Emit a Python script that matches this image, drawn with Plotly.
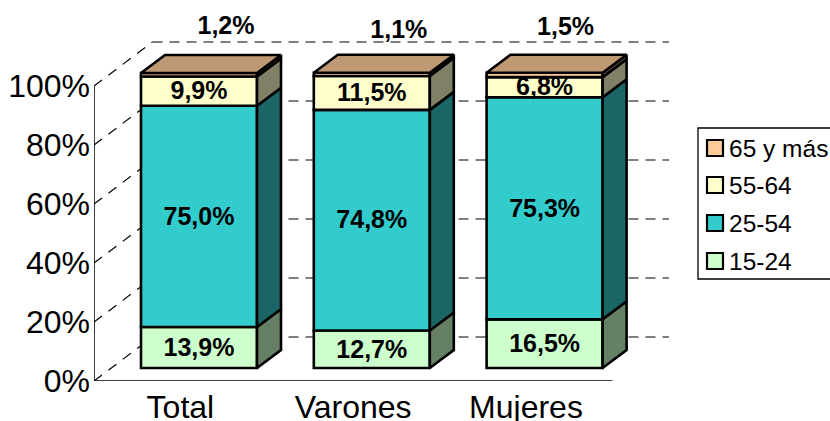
import plotly.graph_objects as go

categories = ["Total", "Varones", "Mujeres"]
series_names = ["15-24", "25-54", "55-64", "65 y más"]
v_15_24 = [13.9, 12.7, 16.5]
v_25_54 = [75.0, 74.8, 75.3]
v_55_64 = [9.9, 11.5, 6.8]
v_65_mas = [1.2, 1.1, 1.5]
series_values = [v_15_24, v_25_54, v_55_64, v_65_mas]
y_ticks = [0, 20, 40, 60, 80, 100]

front_colors = ["#CCFFCC", "#33CCCC", "#FFFFCC", "#FFCC99"]
side_colors = ["#668066", "#1A6666", "#808066", "#806650"]
top_color = "#BF9973"

W, H = 830, 421
X0_PX, X_UNIT_PX = 94.0, 172.8     # pixel of category 0 edge, pixels per category
Y0_PX, Y_UNIT_PX = 381.0, 2.95     # pixel of 0 %, pixels per 1 %
RIGHT_PX = 669.0
WALL_DX = 58.5 / X_UNIT_PX
WALL_DY = 44.0 / Y_UNIT_PX
BAR_W = 116.0 / X_UNIT_PX
BAR_SHIFT_X = 18.6 / X_UNIT_PX
BAR_SHIFT_Y = 13.0 / Y_UNIT_PX
BAR_DX = 24.0 / X_UNIT_PX
BAR_DY = 18.0 / Y_UNIT_PX
LABEL_NUDGE = 2.0 / Y_UNIT_PX
FONT = "Liberation Sans, Arial, sans-serif"


def px_x(p):
    return p / W


def px_y(p):
    return 1 - p / H


x_max = (RIGHT_PX - X0_PX) / X_UNIT_PX
y_max = Y0_PX / Y_UNIT_PX
centers = [i + 0.5 for i in range(len(categories))]
bar_x = [c + BAR_SHIFT_X for c in centers]

fig = go.Figure()
cum = [BAR_SHIFT_Y] * len(categories)

label_x, label_y, label_text = [], [], []
top_label_dx = [27 / X_UNIT_PX, 27 / X_UNIT_PX, 21 / X_UNIT_PX]
top_label_y = [120.3, 119.0, 120.0]

for s, (name, vals) in enumerate(zip(series_names, series_values)):
    fig.add_trace(go.Bar(
        x=bar_x, y=vals, base=cum, name=name, width=BAR_W,
        marker=dict(color=front_colors[s], line=dict(color="black", width=2.6)),
        showlegend=False, hoverinfo="skip",
    ))
    for i, v in enumerate(vals):
        xr = bar_x[i] + BAR_W / 2
        y0, y1 = cum[i], cum[i] + v
        fig.add_trace(go.Scatter(
            x=[xr, xr + BAR_DX, xr + BAR_DX, xr, xr],
            y=[y0, y0 + BAR_DY, y1 + BAR_DY, y1, y0],
            mode="lines", fill="toself", fillcolor=side_colors[s],
            line=dict(color="black", width=2.6), showlegend=False, hoverinfo="skip",
        ))
        if s == len(series_names) - 1:
            xl = bar_x[i] - BAR_W / 2
            fig.add_trace(go.Scatter(
                x=[xl, xr, xr + BAR_DX, xl + BAR_DX, xl],
                y=[y1, y1, y1 + BAR_DY, y1 + BAR_DY, y1],
                mode="lines", fill="toself", fillcolor=top_color,
                line=dict(color="black", width=2.6), showlegend=False, hoverinfo="skip",
            ))
            label_x.append(bar_x[i] + top_label_dx[i])
            label_y.append(top_label_y[i] - LABEL_NUDGE)
        else:
            label_x.append(bar_x[i])
            label_y.append((y0 + y1) / 2 - LABEL_NUDGE)
        label_text.append("<b>" + f"{v:.1f}%".replace(".", ",") + "</b>")
    cum = [c + v for c, v in zip(cum, vals)]

fig.add_trace(go.Scatter(
    x=label_x, y=label_y, text=label_text, mode="text", textposition="middle center",
    textfont=dict(family=FONT, size=25, color="black"),
    showlegend=False, hoverinfo="skip", cliponaxis=False,
))

shapes = []
for t in y_ticks:
    shapes.append(dict(type="line", layer="below", xref="x", yref="y",
                       x0=0, y0=t, x1=WALL_DX, y1=t + WALL_DY,
                       line=dict(color="#000000", width=1.2, dash="10px,8px")))
    shapes.append(dict(type="line", layer="below", xref="x", yref="y",
                       x0=WALL_DX, y0=t + WALL_DY, x1=x_max, y1=t + WALL_DY,
                       line=dict(color="#555555", width=1.4, dash="10px,7px")))
shapes.append(dict(type="line", layer="below", xref="x", yref="y", x0=0, y0=0, x1=0, y1=100,
                   line=dict(color="black", width=1.5)))
shapes.append(dict(type="line", layer="below", xref="x", yref="y", x0=0, y0=0, x1=len(categories), y1=0,
                   line=dict(color="black", width=1.5)))

# legend, drawn to the reference's proportions
shapes.append(dict(type="rect", xref="paper", yref="paper",
                   x0=px_x(698), x1=px_x(836), y0=px_y(279), y1=px_y(128),
                   line=dict(color="black", width=1.3), fillcolor="white"))
legend_rows_px = [261, 223, 185, 148]
annotations = []
for s, row in enumerate(legend_rows_px):
    shapes.append(dict(type="rect", xref="paper", yref="paper",
                       x0=px_x(707), x1=px_x(723), y0=px_y(row + 8), y1=px_y(row - 8),
                       line=dict(color="black", width=2.2), fillcolor=front_colors[s]))
    annotations.append(dict(xref="paper", yref="paper", x=px_x(726.5), y=px_y(row),
                            xanchor="left", yanchor="middle", showarrow=False,
                            text=series_names[s], align="left",
                            font=dict(family=FONT, size=24.5, color="black")))

fig.update_layout(
    template="none",
    width=W, height=H, autosize=False,
    margin=dict(l=0, r=0, t=0, b=0, pad=0),
    paper_bgcolor="white", plot_bgcolor="white",
    barmode="overlay", showlegend=False,
    font=dict(family=FONT, color="black"),
    shapes=shapes, annotations=annotations,
    xaxis=dict(domain=[px_x(X0_PX), px_x(RIGHT_PX)], range=[0, x_max], automargin=False,
               tickmode="array", tickvals=centers, ticktext=categories,
               showgrid=False, zeroline=False, showline=False, ticks="",
               tickfont=dict(family=FONT, size=32), anchor="y", ticklabelstandoff=4),
    yaxis=dict(domain=[px_y(Y0_PX), 1], range=[0, y_max], automargin=False,
               tickmode="array", tickvals=y_ticks, ticktext=[f"{t}%" for t in y_ticks],
               showgrid=False, zeroline=False, showline=False, ticks="",
               tickfont=dict(family=FONT, size=32), anchor="x", ticklabelstandoff=3),
)

fig.write_html("out.html", config=dict(displayModeBar=False),
               post_script="document.body.style.margin='0';document.documentElement.style.overflow='hidden';")
